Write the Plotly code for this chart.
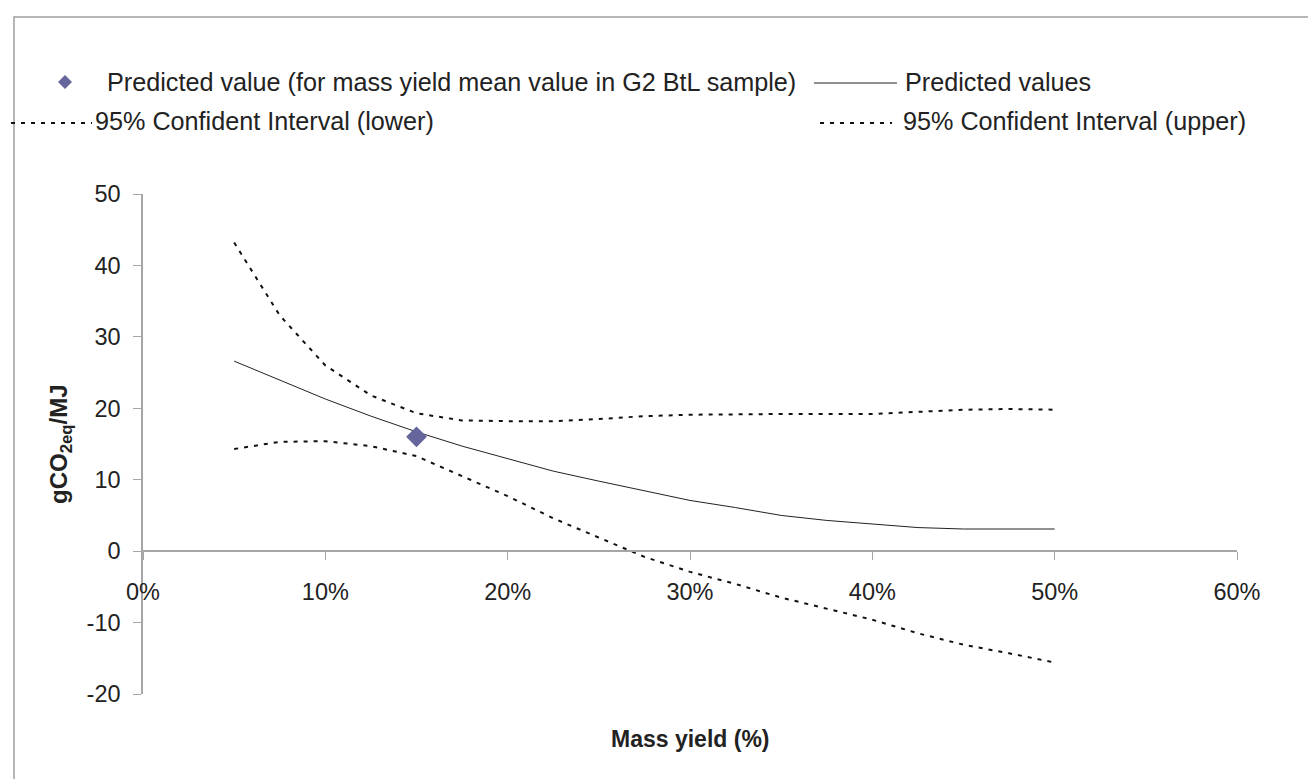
import plotly.graph_objects as go

# ---------------- data ----------------
mass_yield = [0.05, 0.075, 0.10, 0.125, 0.15, 0.175, 0.20, 0.225, 0.25, 0.275,
              0.30, 0.325, 0.35, 0.375, 0.40, 0.425, 0.45, 0.475, 0.50]
predicted = [26.6, 24.0, 21.3, 18.9, 16.7, 14.7, 12.9, 11.2, 9.8, 8.4,
             7.1, 6.1, 5.0, 4.3, 3.8, 3.3, 3.1, 3.1, 3.1]
ci_upper = [43.2, 33.0, 26.0, 21.8, 19.3, 18.3, 18.2, 18.2, 18.5, 18.9,
            19.1, 19.2, 19.2, 19.2, 19.2, 19.5, 19.8, 19.9, 19.8]
ci_lower = [14.3, 15.3, 15.4, 14.7, 13.3, 10.5, 7.7, 4.6, 1.9, -0.8,
            -2.9, -4.6, -6.5, -8.1, -9.6, -11.5, -13.1, -14.3, -15.6]
mean_point_x = [0.15]
mean_point_y = [16.0]

x_ticks = [0, 0.1, 0.2, 0.3, 0.4, 0.5, 0.6]
y_ticks = [-20, -10, 0, 10, 20, 30, 40, 50]
y_tick_labels = ["-20", "-10", "0", "10", "20", "30", "40", "50"]

legend_labels = ["Predicted value (for mass yield mean value in G2 BtL sample)",
                 "Predicted values",
                 "95% Confident Interval (lower)",
                 "95% Confident Interval (upper)"]

# ---------------- style ----------------
FONT = "Liberation Sans, Arial, sans-serif"
FS_TICK = 23.5
FS_LEG = 25.2
AXIS_GRAY = "#a6a6a6"
DIAMOND = "#66669c"
DOT = "4px,6px"

W_FIG, H_FIG = 1316, 779
L, R, T, B = 135, 1229, 186, 686


def px(x):
    return (x - L) / (R - L)


def py(y):
    return (B - y) / (B - T)


fig = go.Figure()

fig.add_trace(go.Scatter(x=mass_yield, y=ci_upper, mode="lines",
                         line=dict(color="#111111", width=2, dash=DOT),
                         name=legend_labels[3], showlegend=False))
fig.add_trace(go.Scatter(x=mass_yield, y=ci_lower, mode="lines",
                         line=dict(color="#111111", width=2, dash=DOT),
                         name=legend_labels[2], showlegend=False))
fig.add_trace(go.Scatter(x=mass_yield, y=predicted, mode="lines",
                         line=dict(color="#222222", width=1),
                         name=legend_labels[1], showlegend=False))
fig.add_trace(go.Scatter(x=mean_point_x, y=mean_point_y, mode="markers",
                         marker=dict(symbol="diamond", size=16, color=DIAMOND),
                         name=legend_labels[0], showlegend=False))

shapes = []
annotations = []

# border of the chart area
shapes.append(dict(type="rect", xref="paper", yref="paper",
                   x0=px(6), x1=px(1309), y0=py(800), y1=py(9),
                   line=dict(color="#a0a0a0", width=1.5), layer="below"))

# manual legend
row1, row2 = 74, 113
d = 7
shapes.append(dict(type="path", xref="paper", yref="paper",
                   path=f"M {px(57-d)},{py(row1)} L {px(57)},{py(row1-d)} "
                        f"L {px(57+d)},{py(row1)} L {px(57)},{py(row1+d)} Z",
                   fillcolor=DIAMOND, line=dict(width=0)))
annotations.append(dict(x=px(97), y=py(row1), text=legend_labels[0]))
shapes.append(dict(type="line", xref="paper", yref="paper",
                   x0=px(806), x1=px(889), y0=py(row1 + 1), y1=py(row1 + 1),
                   line=dict(color="#222222", width=1)))
annotations.append(dict(x=px(895), y=py(row1), text=legend_labels[1]))
shapes.append(dict(type="line", xref="paper", yref="paper",
                   x0=px(3), x1=px(84), y0=py(row2 + 2), y1=py(row2 + 2),
                   line=dict(color="#111111", width=2, dash=DOT)))
annotations.append(dict(x=px(85), y=py(row2), text=legend_labels[2]))
shapes.append(dict(type="line", xref="paper", yref="paper",
                   x0=px(812), x1=px(884), y0=py(row2 + 2), y1=py(row2 + 2),
                   line=dict(color="#111111", width=2, dash=DOT)))
annotations.append(dict(x=px(893), y=py(row2), text=legend_labels[3]))

for a in annotations:
    a.update(xref="paper", yref="paper", xanchor="left", yanchor="middle",
             showarrow=False, font=dict(family=FONT, size=FS_LEG, color="#222222"))

# axis titles
annotations.append(dict(x=0.5, y=py(731), xref="paper", yref="paper",
                        text="<b>Mass yield (%)</b>", showarrow=False,
                        xanchor="center", yanchor="middle",
                        font=dict(family=FONT, size=23, color="#222222")))
annotations.append(dict(x=px(52), y=0.5, xref="paper", yref="paper",
                        text="<b>gCO<sub>2eq</sub>/MJ</b>", showarrow=False,
                        textangle=-90, xanchor="center", yanchor="middle",
                        font=dict(family=FONT, size=24, color="#222222")))

y_range = [-20, 50]

fig.update_layout(
    width=W_FIG, height=H_FIG,
    margin=dict(l=L, r=W_FIG - R, t=T, b=H_FIG - B, pad=0),
    paper_bgcolor="white", plot_bgcolor="white",
    showlegend=False,
    shapes=shapes, annotations=annotations,
    xaxis=dict(range=[0, 0.6], tickvals=x_ticks, tickformat=".0%",
               anchor="free",
               position=(0 - y_range[0]) / (y_range[1] - y_range[0]),
               showline=True, linecolor=AXIS_GRAY, linewidth=1.5,
               ticks="outside", ticklen=8, tickcolor=AXIS_GRAY, tickwidth=1,
               showgrid=False, zeroline=False, ticklabelstandoff=12,
               tickfont=dict(family=FONT, size=FS_TICK, color="#222222")),
    yaxis=dict(range=y_range, tickvals=y_ticks, ticktext=y_tick_labels,
               showline=True, linecolor=AXIS_GRAY, linewidth=1.5,
               ticks="outside", ticklen=8, tickcolor=AXIS_GRAY, tickwidth=1,
               showgrid=False, zeroline=False, ticklabelstandoff=8,
               tickfont=dict(family=FONT, size=FS_TICK, color="#222222")),
)

fig.write_html("out.html")
